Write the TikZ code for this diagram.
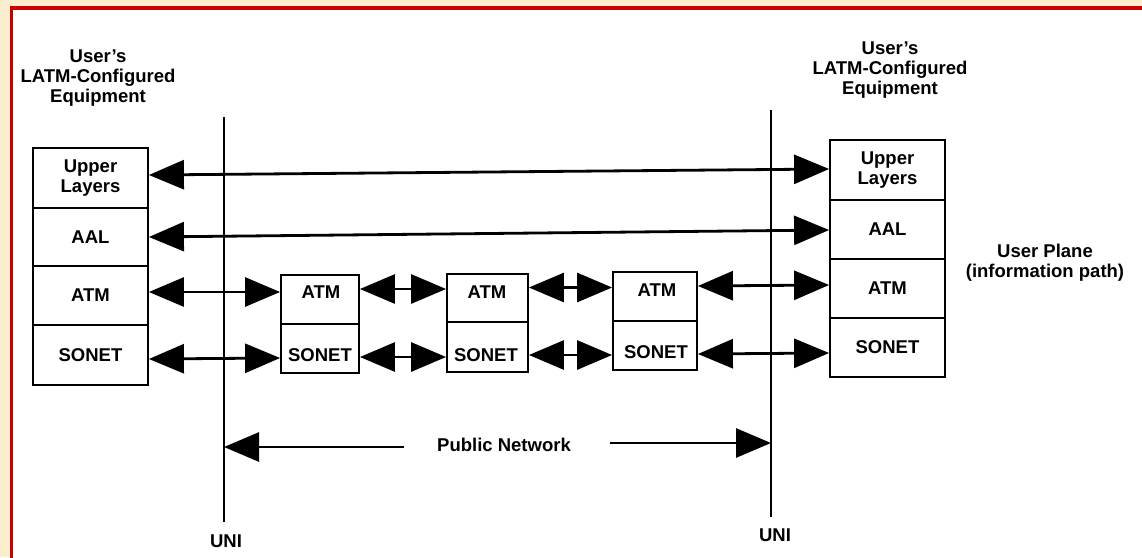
\documentclass[tikz,border=0pt]{standalone}
\usepackage{fontspec}
\setmainfont{Liberation Sans}
\usetikzlibrary{arrows.meta}
\definecolor{bgc}{RGB}{251,238,206}
\definecolor{framered}{RGB}{200,0,0}
\begin{document}
\begin{tikzpicture}[x=1pt,y=-1pt,
  lbl/.style={font=\bfseries\fontsize{18.5}{20}\selectfont, align=center, inner sep=0pt},
  cell/.style={draw, line width=1.8pt, inner sep=0pt, lbl},
  link/.style={line width=2.8pt, {Triangle[length=35pt,width=29pt]}-{Triangle[length=35pt,width=29pt]}},
  onetip/.style={line width=2.8pt, -{Triangle[length=35pt,width=29pt]}},
  uni/.style={line width=1.6pt}]
\useasboundingbox (0,0) rectangle (1142,557);
\fill[bgc] (0,0) rectangle (1142,557);
\filldraw[fill=white, draw=framered, line width=3.5pt] (11.5,8) rectangle (1170,580);

% UNI lines
\coordinate (uLt) at (224,117);
\coordinate (uLb) at (224,522);
\coordinate (uRt) at (771,110);
\coordinate (uRb) at (771,517);
\draw[uni] (uLt) -- (uLb);
\draw[uni] (uRt) -- (uRb);
\node[lbl] (uniL) at (226,541) {UNI};
\node[lbl] (uniR) at (775,535) {UNI};

% headings
\node[lbl] (hl) at (98,78) {User's\\LATM-Configured\\Equipment};
\node[lbl] (hr) at (890,70) {User's\\LATM-Configured\\Equipment};
\node[lbl] (up) at (1045,263) {User Plane\\(information path)};

% left stack
\node[cell, minimum width=115pt, minimum height=60pt] (l1) at (90.5,178) {Upper\\Layers};
\node[cell, minimum width=115pt, minimum height=58pt] (l2) at (90.5,237) {AAL};
\node[cell, minimum width=115pt, minimum height=59pt] (l3) at (90.5,295.5) {ATM};
\node[cell, minimum width=115pt, minimum height=60pt] (l4) at (90.5,355) {SONET};

% right stack
\node[cell, minimum width=115pt, minimum height=60pt] (r1) at (887.5,170) {Upper\\Layers};
\node[cell, minimum width=115pt, minimum height=59pt] (r2) at (887.5,229.5) {AAL};
\node[cell, minimum width=115pt, minimum height=59pt] (r3) at (887.5,288.5) {ATM};
\node[cell, minimum width=115pt, minimum height=59pt] (r4) at (887.5,347.5) {SONET};

% middle boxes
\node[cell, minimum width=78pt, minimum height=49pt] (b1a) at (320,299.5) {};
\node[cell, minimum width=78pt, minimum height=49pt] (b1s) at (320,348.5) {};
\node[cell, minimum width=81pt, minimum height=48pt] (b2a) at (487.5,298) {};
\node[cell, minimum width=81pt, minimum height=50pt] (b2s) at (487.5,347) {};
\node[cell, minimum width=84pt, minimum height=49pt] (b3a) at (655,296.5) {};
\node[cell, minimum width=84pt, minimum height=49pt] (b3s) at (655,345.5) {};
\node[lbl] (t1a) at (321,292) {ATM};
\node[lbl] (t1s) at (320,355) {SONET};
\node[lbl] (t2a) at (487,292) {ATM};
\node[lbl] (t2s) at (486,355) {SONET};
\node[lbl] (t3a) at (657,290) {ATM};
\node[lbl] (t3s) at (656,352) {SONET};

% end-to-end links
\draw[link] (l1.east |- 0,175) -- (r1.west |- 0,169);
\draw[link] (l2.east |- 0,237) -- (r2.west |- 0,230);
% ATM row
\draw[link] (l3.east |- 0,292) -- (b1a.west |- 0,292);
\draw[link] (b1a.east |- 0,289) -- (b2a.west |- 0,289);
\draw[link] (b2a.east |- 0,287.5) -- (b3a.west |- 0,287.5);
\draw[link] (b3a.east |- 0,286) -- (r3.west |- 0,285);
% SONET row
\draw[link] (l4.east |- 0,359) -- (b1s.west |- 0,358);
\draw[link] (b1s.east |- 0,357) -- (b2s.west |- 0,357);
\draw[link] (b2s.east |- 0,355) -- (b3s.west |- 0,355);
\draw[link] (b3s.east |- 0,354) -- (r4.west |- 0,353);

% public network
\node[lbl] (pn) at (504,445) {Public Network};
\coordinate (pnl) at (404,447);
\coordinate (pnr) at (610,443);
\draw[onetip] (pnl) -- (uLt |- 0,447);
\draw[onetip] (pnr) -- (uRt |- 0,443);
\end{tikzpicture}
\end{document}
